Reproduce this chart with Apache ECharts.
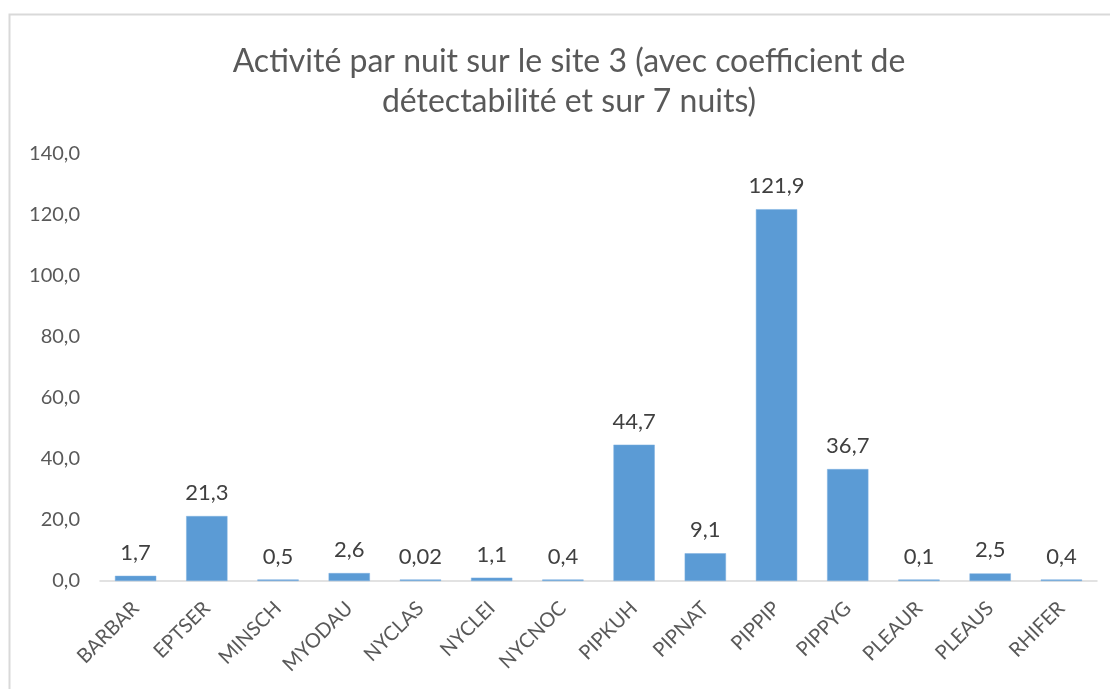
<!DOCTYPE html>
<html>
<head>
<meta charset="utf-8">
<script src="https://cdn.jsdelivr.net/npm/echarts@6/dist/echarts.min.js"></script>
<style>
  html, body { margin: 0; padding: 0; background: #fff; }
  #chart { width: 1110px; height: 689px; }
</style>
</head>
<body>
<div id="chart"></div>
<script>
// Species codes and mean activity per night (site 3, detectability-weighted, 7 nights)
const categories = ['BARBAR', 'EPTSER', 'MINSCH', 'MYODAU', 'NYCLAS', 'NYCLEI', 'NYCNOC',
                    'PIPKUH', 'PIPNAT', 'PIPPIP', 'PIPPYG', 'PLEAUR', 'PLEAUS', 'RHIFER'];
const activity = [1.7, 21.3, 0.5, 2.6, 0.02, 1.1, 0.4, 44.7, 9.1, 121.9, 36.7, 0.1, 2.5, 0.4];
const titleText = 'Activité par nuit sur le site 3 (avec coefficient de\ndétectabilité et sur 7 nuits)';

const FONT = 'Lato, "Open Sans", sans-serif';
const frenchNum = v => String(v).replace('.', ',');

const chart = echarts.init(document.getElementById('chart'), null, { renderer: 'canvas' });
chart.setOption({
  animation: false,
  backgroundColor: '#ffffff',
  graphic: [{
    type: 'rect',
    shape: { x: 9.5, y: 14.5, width: 1200, height: 800 },
    style: { fill: 'none', stroke: '#d9d9d9', lineWidth: 2 },
    silent: true
  }],
  title: {
    text: titleText,
    left: 564,
    top: 37,
    textAlign: 'center',
    textStyle: {
      fontFamily: FONT,
      fontSize: 32,
      fontWeight: 'normal',
      color: '#595959',
      lineHeight: 40
    }
  },
  grid: { left: 100, right: 13, top: 154, bottom: 108 },
  xAxis: {
    type: 'category',
    data: categories,
    axisLine: { lineStyle: { color: '#d9d9d9', width: 1.5 } },
    axisTick: { show: false },
    axisLabel: {
      rotate: 45,
      interval: 0,
      margin: 24,
      fontFamily: FONT,
      fontSize: 20,
      color: '#595959'
    }
  },
  yAxis: {
    type: 'value',
    min: 0,
    max: 140,
    interval: 20,
    splitLine: { show: false },
    axisLine: { show: false },
    axisTick: { show: false },
    axisLabel: {
      margin: 20,
      fontFamily: FONT,
      fontSize: 20,
      color: '#595959',
      formatter: v => v.toFixed(1).replace('.', ',')
    }
  },
  series: [{
    type: 'bar',
    data: activity,
    barWidth: '58%',
    barMinHeight: 1.5,
    itemStyle: { color: '#5b9bd5', borderColor: '#7fb1e0', borderWidth: 0.5 },
    label: {
      show: true,
      position: 'top',
      distance: 12,
      fontFamily: FONT,
      fontSize: 22,
      color: '#404040',
      formatter: p => frenchNum(p.value)
    }
  }]
});
</script>
</body>
</html>
